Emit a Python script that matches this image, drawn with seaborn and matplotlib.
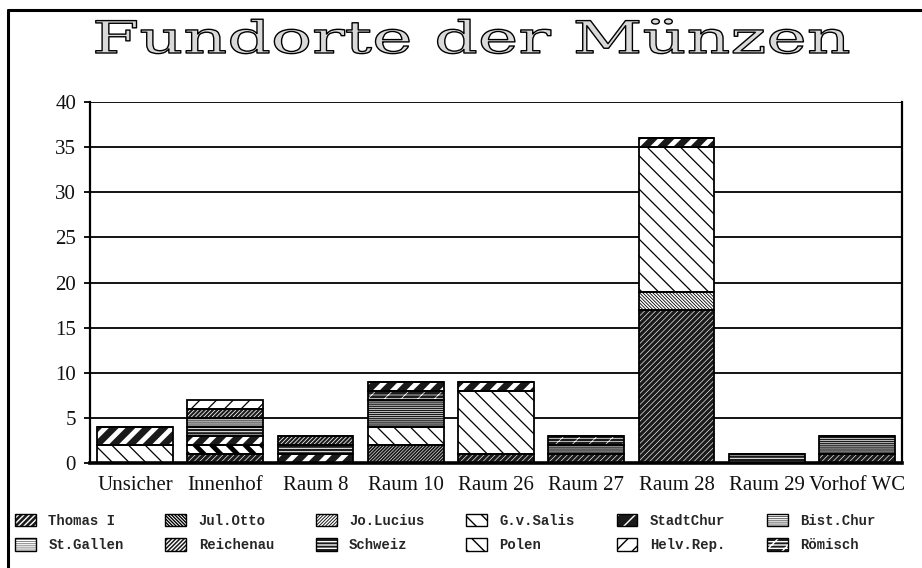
import numpy as np
import matplotlib
matplotlib.use("Agg")
import matplotlib.pyplot as plt
import seaborn as sns
from matplotlib.patches import Patch
from matplotlib.lines import Line2D
from matplotlib.legend_handler import HandlerTuple
from matplotlib.patheffects import AbstractPathEffect
from matplotlib.transforms import Affine2D
from matplotlib.font_manager import FontProperties

# ---------------- data ----------------
categories = ["Unsicher", "Innenhof", "Raum 8", "Raum 10", "Raum 26",
              "Raum 27", "Raum 28", "Raum 29", "Vorhof WC"]
thomas_i  = [0, 1, 0, 0, 1, 1, 17, 0, 1]
jo_lucius = [0, 0, 0, 2, 0, 0, 0, 0, 0]
jul_otto  = [0, 0, 0, 0, 0, 0, 2, 0, 0]
gv_salis  = [2, 0, 0, 2, 7, 0, 16, 0, 0]
polen     = [0, 1, 0, 0, 0, 0, 0, 0, 0]
bist_chur = [0, 0, 0, 3, 0, 1, 0, 0, 2]
roemisch  = [0, 0, 0, 1, 0, 1, 0, 0, 0]
stadtchur = [2, 1, 1, 1, 1, 0, 1, 0, 0]
schweiz   = [0, 1, 1, 0, 0, 0, 0, 1, 0]
st_gallen = [0, 1, 0, 0, 0, 0, 0, 0, 0]
reichenau = [0, 1, 1, 0, 0, 0, 0, 0, 0]
helv_rep  = [0, 1, 0, 0, 0, 0, 0, 0, 0]
yticks = [0, 5, 10, 15, 20, 25, 30, 35, 40]
title = "Fundorte der Münzen"

series = {
    "Thomas I": thomas_i, "Jo.Lucius": jo_lucius, "Jul.Otto": jul_otto,
    "G.v.Salis": gv_salis, "Polen": polen, "Bist.Chur": bist_chur,
    "Römisch": roemisch, "StadtChur": stadtchur, "Schweiz": schweiz,
    "St.Gallen": st_gallen, "Reichenau": reichenau, "Helv.Rep.": helv_rep,
}
stack_order = ["Thomas I", "Jo.Lucius", "Jul.Otto", "G.v.Salis", "Polen",
               "Bist.Chur", "Römisch", "StadtChur", "Schweiz", "St.Gallen",
               "Reichenau", "Helv.Rep."]
legend_order = ["Thomas I", "St.Gallen", "Jul.Otto", "Reichenau", "Jo.Lucius",
                "Schweiz", "G.v.Salis", "Polen", "StadtChur", "Helv.Rep.",
                "Bist.Chur", "Römisch"]

# ---------------- styles: fill, hatch colour, hatch, hatch linewidth ----------------
DARK = "#1a1a1a"
styles = {
    "Thomas I":  (DARK, "white", "/" * 6, 0.45),
    "Jo.Lucius": (DARK, "white", "/" * 10, 0.4),
    "Jul.Otto":  ("white", "black", "\\" * 10, 0.6),
    "G.v.Salis": ("white", "black", "\\" * 2, 0.9),
    "Polen":     ("white", "black", "\\" * 2, 3.5),
    "Bist.Chur": (DARK, "white", "-" * 8, 0.5),
    "Römisch":   (DARK, "white", "-" * 5 + "/" * 2, 0.5),
    "StadtChur": (DARK, "white", "/" * 2, 3.5),
    "Schweiz":   (DARK, "white", "-" * 5, 0.7),
    "St.Gallen": ("#555555", "white", "-" * 8, 0.5),
    "Reichenau": (DARK, "white", "/" * 8, 0.55),
    "Helv.Rep.": ("white", "black", "/" * 2, 0.9),
}

sns.set_theme(style="white")
plt.rcParams["font.family"] = ["Liberation Serif", "DejaVu Serif"]

W, H = 922, 568
fig = plt.figure(figsize=(W / 100, H / 100), dpi=100, facecolor="white")
ax = fig.add_axes([90 / W, (H - 463) / H, (902 - 90) / W, (463 - 102) / H])
ax.set_facecolor("white")

bottom = np.zeros(len(categories))
bottoms = {}
for name in stack_order:
    vals = np.array(series[name], dtype=float)
    fc, hc, hatch, hlw = styles[name]
    bottoms[name] = bottom.copy()
    with plt.rc_context({"hatch.linewidth": hlw}):
        n0 = len(ax.patches)
        sns.barplot(x=categories, y=vals, order=categories, bottom=bottom,
                    color=fc, saturation=1, edgecolor=hc, linewidth=0,
                    hatch=hatch, width=0.84, errorbar=None, ax=ax, zorder=2)
        for p in ax.patches[n0:]:
            if hasattr(p, "set_hatch_linewidth"):
                p.set_hatch_linewidth(hlw)
    bottom = bottom + vals

# outlines of each segment
for name in stack_order:
    vals = np.array(series[name], dtype=float)
    sns.barplot(x=categories, y=vals, order=categories, bottom=bottoms[name],
                fill=False, color="black", facecolor="none", edgecolor="black",
                linewidth=1.3, width=0.84, errorbar=None, ax=ax, zorder=3)

ax.set_xlim(-0.5, len(categories) - 0.5)
ax.set_ylim(0, 40)
ax.set_yticks(yticks)
ax.set_yticklabels([str(v) for v in yticks])
ax.set_xlabel("")
ax.set_ylabel("")
ax.yaxis.grid(True, color="black", linewidth=1.3)
ax.xaxis.grid(False)
ax.set_axisbelow(True)
for s in ax.spines.values():
    s.set_color("black")
    s.set_linewidth(1.6)
ax.spines["bottom"].set_linewidth(2.6)
ax.spines["top"].set_visible(False)
ax.tick_params(axis="y", length=4, width=1.3, color="black", direction="out",
               pad=6, labelsize=15, labelcolor="#111111", left=True)
ax.tick_params(axis="x", length=0, pad=9, labelsize=15, labelcolor="#111111")

# outer frame (left and top lines)
fig.add_artist(Line2D([8 / W, 8 / W], [0, 1 - 10 / H], transform=fig.transFigure,
                      color="black", lw=2.2))
fig.add_artist(Line2D([8 / W, 1], [1 - 10 / H, 1 - 10 / H], transform=fig.transFigure,
                      color="black", lw=2.2))


# title: outlined, horizontally stretched serif text
class StretchOutline(AbstractPathEffect):
    def __init__(self, sx=1.0, x0=0.0, lw=1.0):
        super().__init__()
        self.sx, self.x0, self.lw = sx, x0, lw

    def draw_path(self, renderer, gc, tpath, affine, rgbFace=None):
        aff = affine + Affine2D().translate(-self.x0, 0).scale(self.sx, 1).translate(self.x0, 0)
        gc0 = renderer.new_gc()
        gc0.copy_properties(gc)
        gc0.set_linewidth(self.lw)
        gc0.set_foreground("black")
        renderer.draw_path(gc0, tpath, aff, (0.85, 0.85, 0.85))
        gc0.restore()


eff = StretchOutline(1.0, 472, 1.0)
t = fig.text(472 / W, 1 - 53 / H, title, ha="center", va="baseline",
             fontsize=32, family="DejaVu Serif", color="black")
fig.canvas.draw()
natural = t.get_window_extent().width
eff.sx = 760 / natural
t.set_path_effects([eff])

# legend
handles = []
for name in legend_order:
    fc, hc, hatch, hlw = styles[name]
    with plt.rc_context({"hatch.linewidth": hlw}):
        p1 = Patch(facecolor=fc, edgecolor=hc, hatch=hatch, linewidth=0)
    if hasattr(p1, "set_hatch_linewidth"):
        p1.set_hatch_linewidth(hlw)
    p2 = Patch(facecolor="none", edgecolor="black", linewidth=1.0)
    handles.append((p1, p2))

fig.legend(handles, legend_order, ncol=6, loc="upper left",
           bbox_to_anchor=(15 / W, 1 - 514 / H), frameon=False,
           prop=FontProperties(family="Liberation Mono", weight="bold", size=10),
           handlelength=1.5, handleheight=1.0, handletextpad=0.9,
           columnspacing=3.0, labelspacing=0.75, borderpad=0, borderaxespad=0,
           handler_map={tuple: HandlerTuple(ndivide=1, pad=0)})

fig.savefig("out.png", dpi=100, facecolor="white")
